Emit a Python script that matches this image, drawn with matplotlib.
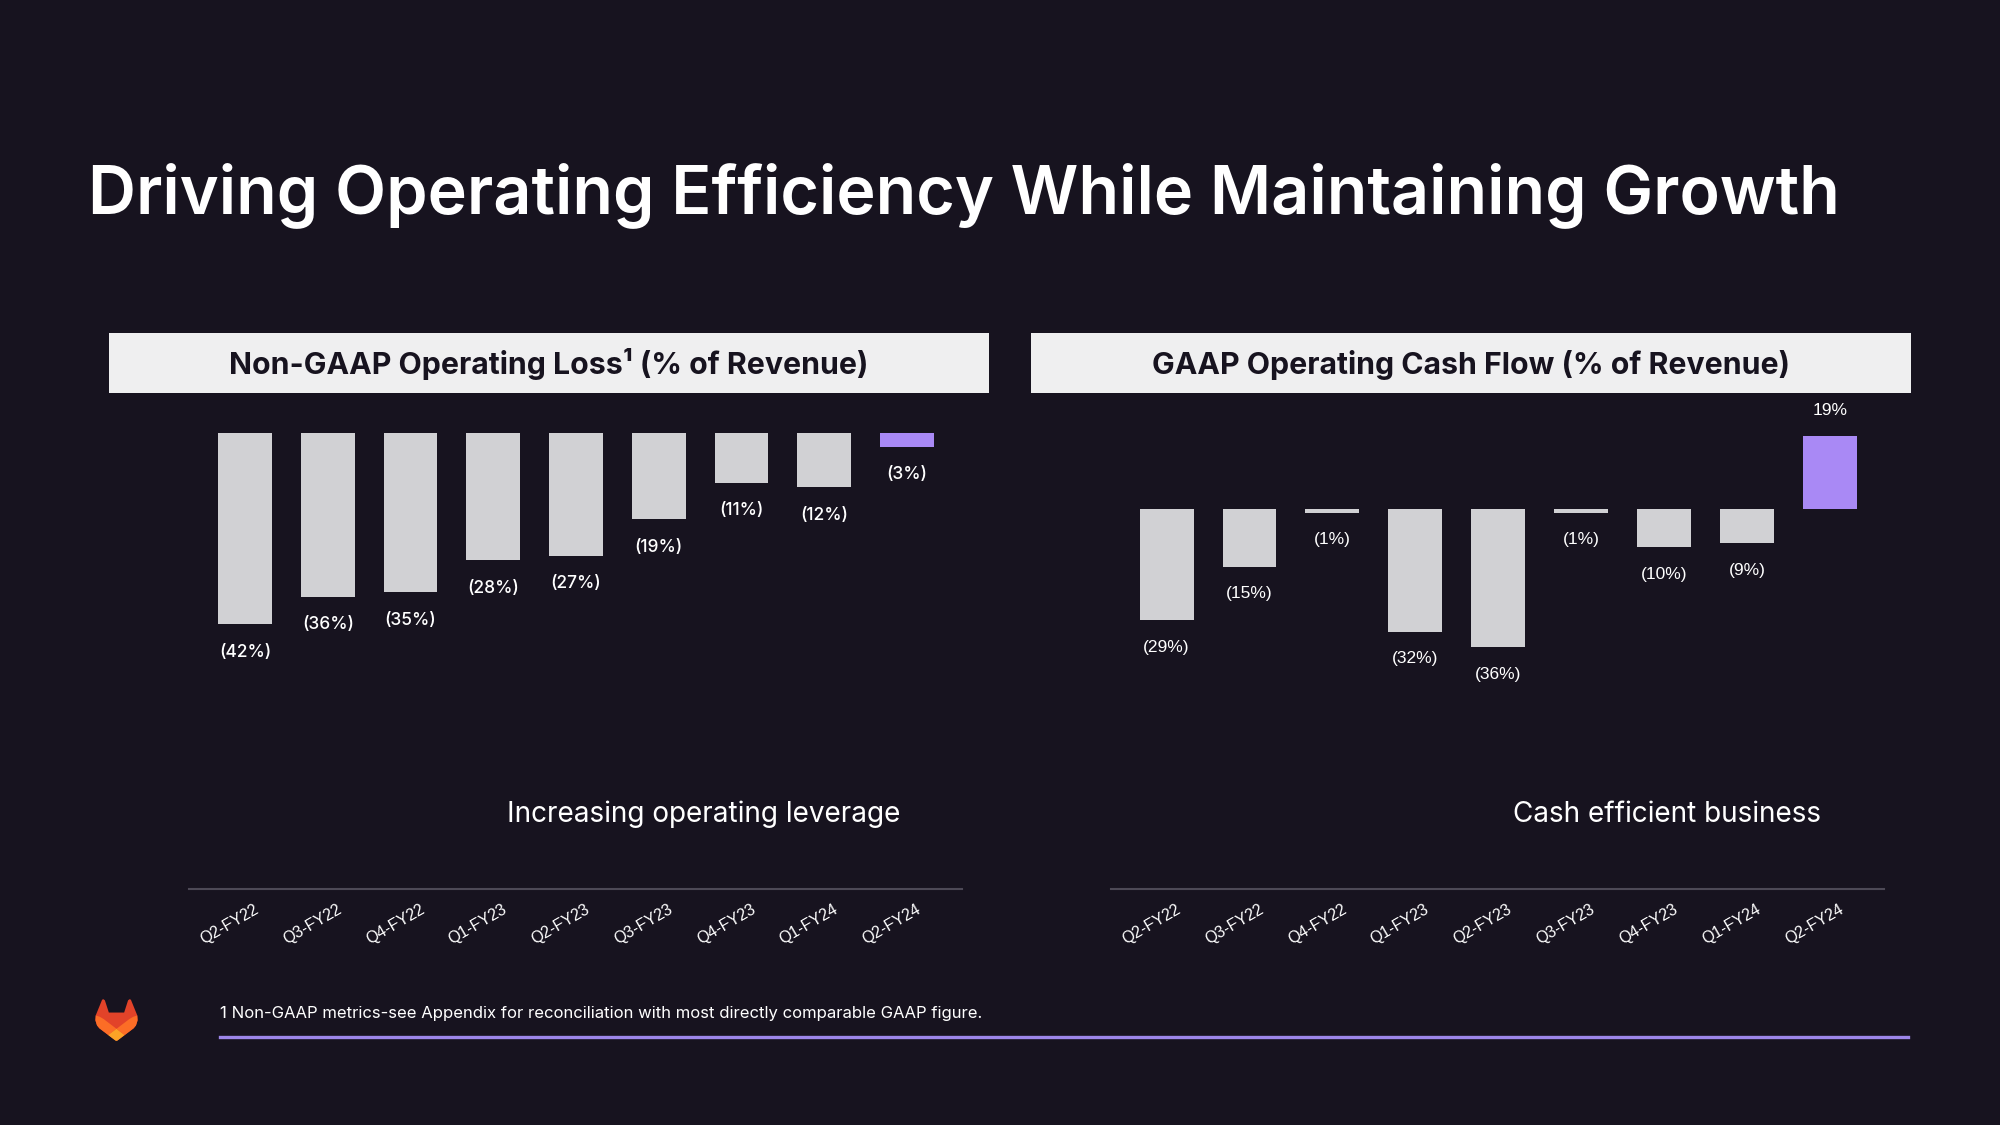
import numpy as np
import matplotlib.pyplot as plt
from matplotlib.patches import Rectangle, Polygon
from matplotlib.transforms import ScaledTranslation

# data
quarters = ['Q2-FY22', 'Q3-FY22', 'Q4-FY22', 'Q1-FY23', 'Q2-FY23',
            'Q3-FY23', 'Q4-FY23', 'Q1-FY24', 'Q2-FY24']
op_loss = [-42, -36, -35, -28, -27, -19, -11, -12, -3]
cash_flow = [-29, -15, -1, -32, -36, -1, -10, -9, 19]

BG = '#17131f'
BAR = '#d1d1d4'
PURPLE = '#a989f5'
HEAD = '#efeff0'

W, H = 2000, 1125


def fx(x):
    return x / W


def fy(y):
    return 1 - y / H


def fmt(v):
    return f'({abs(v)}%)' if v < 0 else f'{v}%'


fig = plt.figure(figsize=(20, 11.25), dpi=100, facecolor=BG)

# title
fig.text(fx(88), fy(213), 'Driving Operating Efficiency While Maintaining Growth',
         color='white', fontsize=47.8, fontfamily='Inter', fontweight='semibold',
         va='baseline', ha='left')

# header boxes
for x0, x1, txt in [(109, 989, 'Non-GAAP Operating Loss\u00b9 (% of Revenue)'),
                    (1031, 1911, 'GAAP Operating Cash Flow (% of Revenue)')]:
    fig.patches.append(Rectangle((fx(x0), fy(393)), fx(x1) - fx(x0), fy(333) - fy(393),
                                 transform=fig.transFigure, facecolor=HEAD,
                                 edgecolor='none', zorder=0))
    fig.text(fx((x0 + x1) / 2), fy(374), txt, color=BG, fontsize=21.8,
             fontfamily='Inter', fontweight='bold', ha='center', va='baseline')


def bar_panel(rect_px, xlim, ylim, values, label_font, label_weight):
    x0, y0, x1, y1 = rect_px
    ax = fig.add_axes([fx(x0), fy(y1), fx(x1) - fx(x0), fy(y0) - fy(y1)])
    ax.set_facecolor('none')
    x = np.arange(len(values))
    colors = [BAR] * (len(values) - 1) + [PURPLE]
    ax.bar(x, values, width=0.65, color=colors)
    for xi, v in zip(x, values):
        if v < 0:
            ax.annotate(fmt(v), (xi, v), xytext=(0, -14), textcoords='offset points',
                        ha='center', va='top', color='white', fontsize=12.5,
                        fontfamily=label_font, fontweight=label_weight)
        else:
            ax.annotate(fmt(v), (xi, v), xytext=(0, 15), textcoords='offset points',
                        ha='center', va='baseline', color='white', fontsize=12.5,
                        fontfamily=label_font, fontweight=label_weight)
    ax.set_xlim(*xlim)
    ax.set_ylim(*ylim)
    for s in ['top', 'right', 'left']:
        ax.spines[s].set_visible(False)
    ax.spines['bottom'].set_color('#4d4956')
    ax.spines['bottom'].set_linewidth(1.5)
    ax.set_yticks([])
    ax.set_xticks(x)
    ax.set_xticklabels(quarters, rotation=30, ha='right', va='top',
                       rotation_mode='anchor', color='white', fontsize=11.5,
                       fontfamily='Liberation Sans')
    ax.tick_params(axis='x', length=0, pad=9)
    for lab in ax.get_xticklabels():
        lab.set_transform(lab.get_transform() + ScaledTranslation(0.09, 0, fig.dpi_scale_trans))
    return ax


bar_panel((189, 340, 962, 889), (-0.677, 8.665), (-100.2, 20.4), op_loss, 'Inter', 'medium')
bar_panel((1111, 340, 1884, 889), (-0.671, 8.655), (-99.0, 44.0), cash_flow,
          'Liberation Sans', 'normal')

# subtitles
fig.text(fx(704), fy(822), 'Increasing operating leverage', color='white', fontsize=20.1,
         fontfamily='Inter', ha='center', va='baseline')
fig.text(fx(1667), fy(822), 'Cash efficient business', color='white', fontsize=20.1,
         fontfamily='Inter', ha='center', va='baseline')

# footnote and purple rule
fig.text(fx(220), fy(1018), '1 Non-GAAP metrics-see Appendix for reconciliation with most directly comparable GAAP figure.',
         color='white', fontsize=12, fontfamily='Inter', ha='left', va='baseline')
fig.add_artist(plt.Line2D([fx(220), fx(1908)], [fy(1036.5), fy(1036.5)],
                          transform=fig.transFigure, color='#9d86e9', linewidth=2.4))

# gitlab tanuki logo
lax = fig.add_axes([fx(95), fy(1041), fx(138) - fx(95), fy(999) - fy(1041)])
lax.set_xlim(0, 32)
lax.set_ylim(31.5, 0.5)
lax.axis('off')
silhouette = [(0.5, 12.7), (5.3, 1.0), (6.3, 0.66), (7.36, 1.5), (10.3, 10.5), (21.7, 10.5),
              (24.6, 1.5), (25.7, 0.66), (26.7, 1.0), (31.5, 12.7), (31.8, 16), (30.5, 20),
              (28.8, 22.1), (16.8, 31.1), (16, 31.4), (15.2, 31.1), (3.2, 22.1), (1.5, 20),
              (0.2, 16)]
right_o = [(31.42, 12.66), (28.5, 13.6), (25.54, 15.3), (15.98, 22.53), (22.07, 27.13),
           (28.74, 22.13), (30.5, 20), (31.6, 16.5)]
left_o = [(32 - px, py) for px, py in right_o]
yellow = [(9.85, 27.14), (13.13, 29.62), (15.13, 31.13), (16, 31.4), (16.75, 31.13),
          (18.75, 29.62), (22.03, 27.14), (15.94, 22.54)]
lax.add_patch(Polygon(silhouette, closed=True, facecolor='#e24329', edgecolor='none'))
lax.add_patch(Polygon(right_o, closed=True, facecolor='#fc6d26', edgecolor='none'))
lax.add_patch(Polygon(left_o, closed=True, facecolor='#fc6d26', edgecolor='none'))
lax.add_patch(Polygon(yellow, closed=True, facecolor='#fca326', edgecolor='none'))

fig.savefig('out.png', dpi=100, facecolor=BG)
